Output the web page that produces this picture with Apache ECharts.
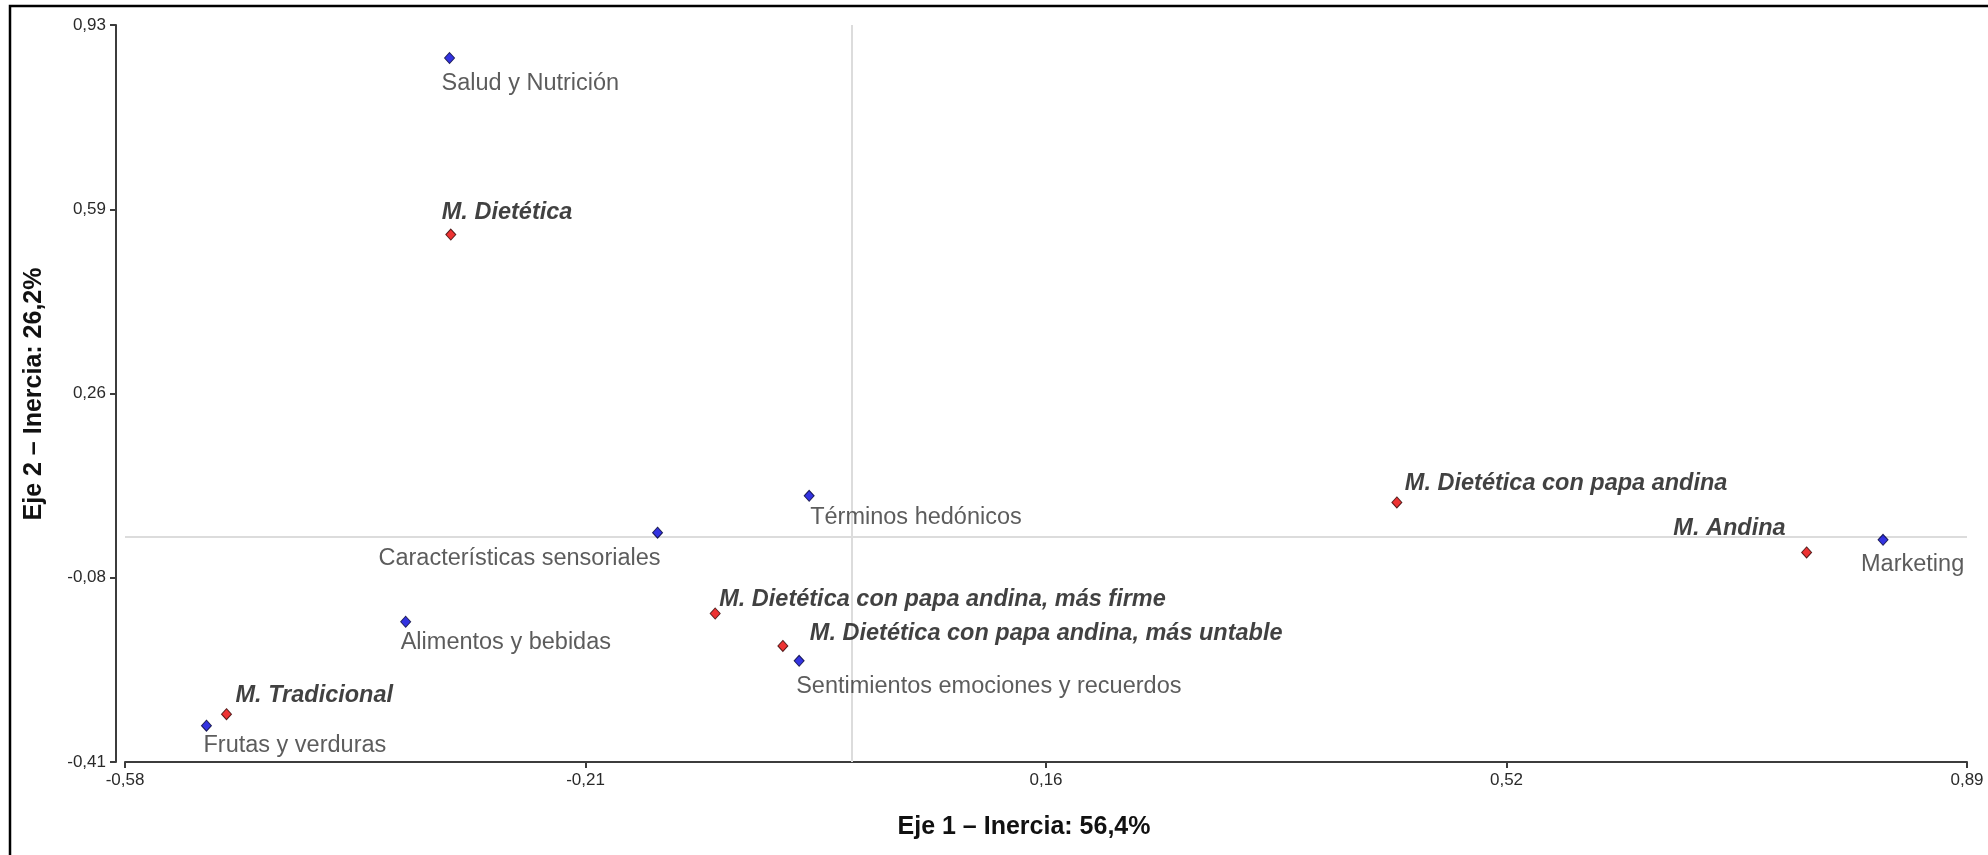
<!DOCTYPE html>
<html>
<head>
<meta charset="utf-8">
<title>Análisis de correspondencias</title>
<script src="https://cdn.jsdelivr.net/npm/echarts@6/dist/echarts.min.js"></script>
<style>
  html, body { margin: 0; padding: 0; background: #ffffff; }
  #chart { width: 1988px; height: 855px; }
</style>
</head>
<body>
<div id="chart"></div>
<script>
// Term categories (blue points)
const termNames = [
  'Salud y Nutrición',
  'Términos hedónicos',
  'Características sensoriales',
  'Marketing',
  'Sentimientos emociones y recuerdos',
  'Alimentos y bebidas',
  'Frutas y verduras'
];
const termX = [-0.321, -0.034, -0.155, 0.823, -0.042, -0.356, -0.515];
const termY = [0.870, 0.074, 0.007, -0.006, -0.226, -0.155, -0.344];

// Samples (red points)
const sampleNames = [
  'M. Dietética',
  'M. Dietética con papa andina',
  'M. Andina',
  'M. Dietética con papa andina, más firme',
  'M. Dietética con papa andina, más untable',
  'M. Tradicional'
];
const sampleX = [-0.320, 0.435, 0.762, -0.109, -0.055, -0.499];
const sampleY = [0.549, 0.062, -0.029, -0.140, -0.199, -0.323];

// Axis ticks and their printed labels
const xTickValues = [-0.58, -0.2125, 0.155, 0.5225, 0.89];
const xTickLabels = ['-0,58', '-0,21', '0,16', '0,52', '0,89'];
const yTickValues = [-0.41, -0.075, 0.26, 0.595, 0.93];
const yTickLabels = ['-0,41', '-0,08', '0,26', '0,59', '0,93'];

const xTitle = 'Eje 1 – Inercia: 56,4%';
const yTitle = 'Eje 2 – Inercia: 26,2%';

// Label placement next to each point: [align, dx, dy] in pixels
const labelPlacement = {
  'Salud y Nutrición': ['left', -8, 26],
  'Términos hedónicos': ['left', 1, 22],
  'Características sensoriales': ['right', 3, 26],
  'Marketing': ['left', -22, 25],
  'Sentimientos emociones y recuerdos': ['left', -3, 26],
  'Alimentos y bebidas': ['left', -5, 21],
  'Frutas y verduras': ['left', -3, 20],
  'M. Dietética': ['left', -9, -22],
  'M. Dietética con papa andina': ['left', 8, -19],
  'M. Andina': ['right', -21, -24],
  'M. Dietética con papa andina, más firme': ['left', 4, -14],
  'M. Dietética con papa andina, más untable': ['left', 27, -12],
  'M. Tradicional': ['left', 9, -19]
};

const FONT = '"Liberation Sans", Arial, Helvetica, sans-serif';

function buildPoints(names, xs, ys, labelStyle) {
  return names.map(function (name, i) {
    const p = labelPlacement[name];
    return {
      name: name,
      value: [xs[i], ys[i]],
      label: Object.assign({
        show: true,
        position: 'inside',
        align: p[0],
        verticalAlign: 'middle',
        offset: [p[1], p[2]],
        formatter: '{b}'
      }, labelStyle)
    };
  });
}

function tickFormatter(values, labels) {
  return function (v) {
    let best = 0;
    for (let i = 1; i < values.length; i++) {
      if (Math.abs(values[i] - v) < Math.abs(values[best] - v)) best = i;
    }
    return labels[best];
  };
}

const chart = echarts.init(document.getElementById('chart'), null, { renderer: 'canvas' });

const axisLineStyle = { color: '#3c3c3c', width: 2 };

chart.setOption({
  backgroundColor: '#ffffff',
  animation: false,
  grid: { left: 125, right: 21, top: 25, bottom: 93, containLabel: false },
  xAxis: {
    type: 'value',
    min: xTickValues[0],
    max: xTickValues[xTickValues.length - 1],
    axisLine: { show: true, onZero: false, lineStyle: axisLineStyle },
    axisTick: { show: true, length: 6, customValues: xTickValues, lineStyle: axisLineStyle },
    axisLabel: {
      customValues: xTickValues,
      formatter: tickFormatter(xTickValues, xTickLabels),
      color: '#2a2a2a',
      fontFamily: FONT,
      fontSize: 17,
      margin: 10
    },
    splitLine: { show: false }
  },
  yAxis: {
    type: 'value',
    min: yTickValues[0],
    max: yTickValues[yTickValues.length - 1],
    offset: 9,
    axisLine: { show: true, onZero: false, lineStyle: axisLineStyle },
    axisTick: { show: true, length: 6, customValues: yTickValues, lineStyle: axisLineStyle },
    axisLabel: {
      customValues: yTickValues,
      formatter: tickFormatter(yTickValues, yTickLabels),
      color: '#2a2a2a',
      fontFamily: FONT,
      fontSize: 17,
      margin: 10
    },
    splitLine: { show: false }
  },
  graphic: [
    {
      // outer frame (top and left edges)
      type: 'polyline',
      silent: true,
      shape: { points: [[10, 855], [10, 6], [1988, 6]] },
      style: { stroke: '#000000', lineWidth: 2.5, fill: null }
    },
    {
      type: 'text',
      silent: true,
      x: 1024,
      y: 827,
      style: {
        text: xTitle,
        font: 'bold 25px ' + FONT,
        fill: '#111111',
        textAlign: 'center',
        textVerticalAlign: 'middle'
      }
    },
    {
      type: 'text',
      silent: true,
      x: 34,
      y: 394,
      rotation: Math.PI / 2,
      style: {
        text: yTitle,
        font: 'bold 25px ' + FONT,
        fill: '#111111',
        textAlign: 'center',
        textVerticalAlign: 'middle'
      }
    }
  ],
  series: [
    {
      name: 'Términos',
      type: 'scatter',
      symbol: 'diamond',
      symbolSize: [10, 11],
      itemStyle: { color: '#0000d8', borderColor: '#000033', borderWidth: 1 },
      data: buildPoints(termNames, termX, termY, {
        color: '#333333',
        fontFamily: FONT,
        fontSize: 23.5
      }),
      markLine: {
        silent: true,
        symbol: 'none',
        label: { show: false },
        lineStyle: { color: '#dcdcdc', width: 2, type: 'solid' },
        data: [{ xAxis: 0 }, { yAxis: 0 }],
        z: 1
      },
      z: 3
    },
    {
      name: 'Muestras',
      type: 'scatter',
      symbol: 'diamond',
      symbolSize: [10, 11],
      itemStyle: { color: '#e80000', borderColor: '#330000', borderWidth: 1 },
      data: buildPoints(sampleNames, sampleX, sampleY, {
        color: '#111111',
        fontFamily: FONT,
        fontSize: 23.5,
        fontWeight: 'bold',
        fontStyle: 'italic'
      }),
      z: 3
    }
  ]
});
</script>
</body>
</html>
